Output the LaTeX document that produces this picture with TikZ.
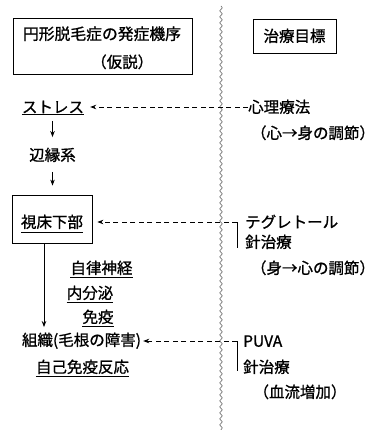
\documentclass[tikz,border=0pt]{standalone}
\usepackage{fontspec}
\setmainfont{Noto Sans CJK JP}[FakeBold=1]
\usetikzlibrary{arrows.meta,decorations.pathmorphing}
\begin{document}
\begin{tikzpicture}[x=1pt,y=-1pt,
 txt/.style={inner sep=0pt, text height=11.5pt, text depth=0pt, font=\fontsize{15.5pt}{18pt}\selectfont},
 box/.style={draw, line width=0.8pt},
 arr/.style={-{Stealth[length=6pt,width=4.5pt]}, line width=0.8pt},
 dasharr/.style={arr, dash pattern=on 5pt off 3.5pt},
 ul/.style={line width=0.8pt},
]
\useasboundingbox[fill=white] (0,0) rectangle (375,430);

% left column
\node[box, minimum width=179pt, minimum height=56pt] (titlebox) at (102.5,46) {};
\node[txt, font=\fontsize{15.8pt}{18pt}\selectfont] (title1) at (102,34) {円形脱毛症の発症機序};
\node[txt, anchor=west] (title2) at (91,62) {（仮説）};

\node[txt] (stress) at (53,107) {ストレス};
\node[txt] (limbic) at (52.5,155) {辺縁系};
\node[box, txt, text height=17.5pt, minimum width=80pt, minimum height=48pt] (hypo) at (52,219) {視床下部};
\node[txt] (ans) at (101.5,268) {自律神経};
\node[txt] (endo) at (90,293) {内分泌};
\node[txt] (immu) at (98,317) {免疫};
\node[txt] (tissue) at (81.5,340) {組織(毛根の障害)};
\node[txt] (auto) at (82.5,367) {自己免疫反応};

% right column
\node[box, txt, minimum width=83pt, minimum height=34pt] (goal) at (294.5,36) {治療目標};
\node[txt, anchor=west] (psych) at (248,107) {心理療法};
\node[txt] (psych2) at (313,133) {（心→身の調節）};
\node[txt, anchor=west] (teg) at (245,222) {テグレトール};
\node[txt, anchor=west] (acu1) at (245,242) {針治療};
\node[txt] (adj2) at (313,268) {（身→心の調節）};
\node[txt, anchor=west] (puva) at (243,341) {PUVA};
\node[txt, anchor=west] (acu2) at (243,367) {針治療};
\node[txt] (blood) at (300,392) {（血流増加）};

% underlines
\draw[ul] ([yshift=-1.5pt]stress.south west) -- ([yshift=-1.5pt]stress.south east);
\foreach \n in {ans,endo,immu,auto}
  \draw[ul] ([yshift=-3.5pt]\n.south west) -- ([yshift=-3.5pt]\n.south east);
\draw[ul] ([xshift=-31pt,yshift=-13pt]hypo.center) -- ([xshift=31pt,yshift=-13pt]hypo.center);

% wavy divider
\coordinate (wtop) at (221,6);
\coordinate (wbot) at (221,430);
\draw[black!60, line width=0.6pt, decorate, decoration={snake, amplitude=1.3pt, segment length=6pt}] (wtop) -- (wbot);

% solid arrows
\draw[arr, shorten <=8pt, shorten >=12pt] (limbic.north |- stress.south) -- (limbic.north);
\draw[arr, shorten <=11pt, shorten >=9pt] (limbic.south) -- (limbic.south |- hypo.north);
\draw[arr, shorten >=7pt] ([xshift=-8pt]hypo.south) -- ([xshift=-8pt]hypo.south |- tissue.north);

% dashed arrows and brackets
\draw[dasharr, shorten >=6pt] (psych.west) -- (stress.east);
\coordinate (br1) at (237,222);
\coordinate (br1b) at (237,248);
\draw[ul] (br1) -- (br1b);
\draw[dasharr, shorten >=5pt] (br1) -- (br1 -| hypo.east);
\coordinate (br2) at (237,341);
\coordinate (br2b) at (237,371);
\draw[ul] (br2) -- (br2b);
\draw[dasharr, shorten >=2pt] (br2) -- (br2 -| tissue.east);
\end{tikzpicture}
\end{document}
